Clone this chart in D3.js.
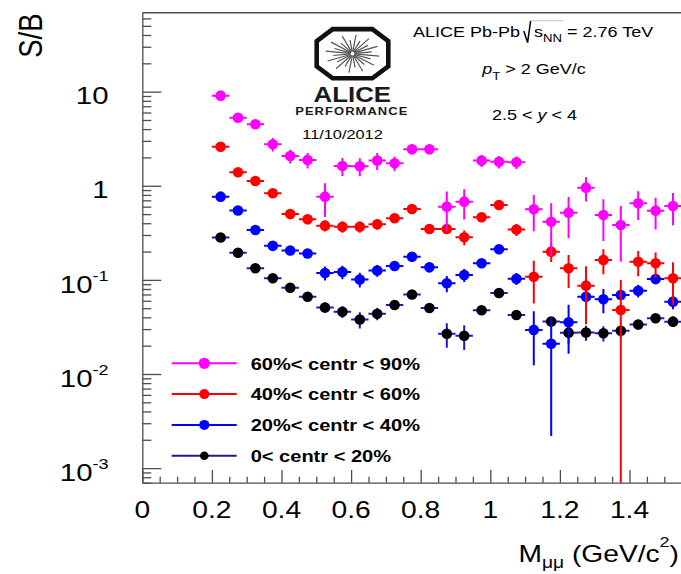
<!DOCTYPE html>
<html>
<head>
<meta charset="utf-8">
<script src="https://cdn.jsdelivr.net/npm/d3@7/dist/d3.min.js"></script>
<style>
  html, body { margin: 0; padding: 0; background: #fff; }
  svg { display: block; font-family: "Liberation Sans", Arial, Helvetica, sans-serif; }
</style>
</head>
<body>
<svg id="chart" width="681" height="574"></svg>
<script>
// Dimuon invariant-mass bin centres (GeV/c^2)
const massBins = [0.225, 0.275, 0.325, 0.375, 0.425, 0.475, 0.525, 0.575, 0.625,
                  0.675, 0.725, 0.775, 0.825, 0.875, 0.925, 0.975, 1.025, 1.075,
                  1.125, 1.175, 1.225, 1.275, 1.325, 1.375, 1.425, 1.475, 1.525];
const halfBin = 0.025;

// Signal over background per centrality class, with statistical errors
const sb60to90 = [9.07, 5.29, 4.50, 2.76, 2.07, 1.88, 0.766, 1.62, 1.61, 1.85, 1.73, 2.44, 2.44,
                  0.60, 0.678, 1.85, 1.80, 1.78, 0.563, 0.415, 0.518, 0.955, 0.489, 0.383, 0.652, 0.544, 0.610];
const err60to90 = [1.0, 0.5, 0.5, 0.45, 0.35, 0.35, 0.3, 0.35, 0.35, 0.38, 0.3, 0.28, 0.28,
                   0.27, 0.24, 0.27, 0.27, 0.27, 0.235, 0.237, 0.24, 0.275, 0.23, 0.227, 0.22, 0.2, 0.23];

const sb40to60 = [2.60, 1.39, 1.125, 0.832, 0.501, 0.441, 0.377, 0.367, 0.367, 0.390, 0.452, 0.567, 0.347,
                  0.347, 0.284, 0.463, 0.625, 0.343, 0.108, 0.1995, 0.133, 0.0868, 0.163, 0.0479, 0.156, 0.150, 0.104];
const err40to60 = [0.2, 0.1, 0.08, 0.07, 0.06, 0.05, 0.05, 0.05, 0.05, 0.05, 0.045, 0.05, 0.035,
                   0.035, 0.05, 0.045, 0.05, 0.05, 0.052, 0.045, 0.051, 0.053, 0.048, 0.052, 0.047, 0.045, 0.05];

const sb20to40 = [0.766, 0.546, 0.339, 0.230, 0.205, 0.191, 0.1184, 0.1213, 0.101, 0.126, 0.1406, 0.1764, 0.136,
                  0.092, 0.1127, 0.150, 0.2114, 0.103, 0.0294, 0.021, 0.0354, 0.0663, 0.0622, 0.0691, 0.0768, 0.102, 0.0587];
const err20to40 = [0.05, 0.04, 0.03, 0.025, 0.022, 0.02, 0.02, 0.02, 0.018, 0.018, 0.016, 0.016, 0.016,
                   0.018, 0.018, 0.016, 0.016, 0.015, 0.017, 0.0188, 0.019, 0.008, 0.018, 0.008, 0.012, 0.01, 0.01];

const sb0to20 = [0.282, 0.1945, 0.133, 0.104, 0.0826, 0.0663, 0.0509, 0.0459, 0.0379, 0.0437, 0.0541, 0.070, 0.0503,
                 0.0268, 0.0255, 0.0475, 0.0726, 0.0424, null, 0.0361, 0.0275, 0.0276, 0.0271, 0.0288, 0.0336, 0.0391, 0.0360];
const err0to20 = [0.02, 0.014, 0.01, 0.008, 0.007, 0.006, 0.0065, 0.0065, 0.0075, 0.0065, 0.005, 0.005, 0.005,
                  0.0078, 0.0075, 0.004, 0.004, 0.004, null, 0.004, 0.0065, 0.005, 0.005, 0.004, 0.004, 0.004, 0.0045];

const legendLabels = ["60%< centr < 90%", "40%< centr < 60%", "20%< centr < 40%", "0< centr < 20%"];

// Axis ticks and labels
const xMajorTicks = [0, 0.2, 0.4, 0.6, 0.8, 1.0, 1.2, 1.4];
const xTickLabels = ["0", "0.2", "0.4", "0.6", "0.8", "1", "1.2", "1.4"];
const yMajorTicks = [10, 1, 0.1, 0.01, 0.001];
const yTickBase = ["10", "1", "10", "10", "10"];
const yTickExp = ["", "", "-1", "-2", "-3"];

// ---------------------------------------------------------------
const svg = d3.select("#chart");
const SX = 1.2;                    // horizontal text stretch of the canvas
const AXIS_COL = "#4d4d4d";

const plotL = 142.3, plotR = 681.7, plotT = 12.7, plotB = 482.7;
const x = d3.scaleLinear().domain([0, 1.55]).range([plotL, plotR]);
const y = d3.scaleLog().domain([7e-4, 69]).range([plotB, plotT]);

svg.append("rect").attr("width", 681).attr("height", 574).attr("fill", "#fff");

// Text placed with a horizontal stretch about its anchor point
function label(parent, px, py, anchor, size, weight) {
  return parent.append("text")
    .attr("transform", `translate(${px},${py}) scale(${SX},1)`)
    .attr("text-anchor", anchor)
    .attr("font-size", size)
    .attr("font-weight", weight || "normal")
    .attr("fill", "#000");
}

// ---------- axes ----------
const axisG = svg.append("g");

const minorY = [];
for (let k = -4; k <= 1; k++) {
  for (let m = 2; m <= 9; m++) {
    const v = m * Math.pow(10, k);
    if (v >= 7e-4 && v <= 69) minorY.push(v);
  }
}
const minorX = d3.range(0, 31).map(i => +(i * 0.05).toFixed(2))
  .filter(v => !xMajorTicks.some(t => Math.abs(t - v) < 1e-6));

const yMajorAxis = d3.axisLeft(y).tickValues(yMajorTicks).tickSizeInner(-19).tickSizeOuter(0).tickFormat("");
const yMinorAxis = d3.axisLeft(y).tickValues(minorY).tickSizeInner(-9).tickSizeOuter(0).tickFormat("");
const xMajorAxis = d3.axisBottom(x).tickValues(xMajorTicks).tickSizeInner(-12.7).tickSizeOuter(0).tickFormat("");
const xMinorAxis = d3.axisBottom(x).tickValues(minorX).tickSizeInner(-6).tickSizeOuter(0).tickFormat("");

axisG.append("g").attr("transform", `translate(${plotL},0)`).call(yMajorAxis);
axisG.append("g").attr("transform", `translate(${plotL},0)`).call(yMinorAxis).select(".domain").remove();
axisG.append("g").attr("transform", `translate(0,${plotB})`).call(xMajorAxis);
axisG.append("g").attr("transform", `translate(0,${plotB})`).call(xMinorAxis).select(".domain").remove();
axisG.selectAll("path, line").attr("stroke", AXIS_COL).attr("stroke-width", 1.3);

// top frame line
axisG.append("line")
  .attr("x1", plotL).attr("x2", 681).attr("y1", plotT).attr("y2", plotT)
  .attr("stroke", AXIS_COL).attr("stroke-width", 1.6);

// tick labels
xMajorTicks.forEach((t, i) => {
  label(svg, x(t), 518.3, "middle", 23.5).text(xTickLabels[i]);
});
yMajorTicks.forEach((t, i) => {
  const txt = label(svg, 108.5, y(t) + 12.7, "end", 24.5);
  txt.append("tspan").text(yTickBase[i]);
  if (yTickExp[i]) {
    txt.append("tspan").attr("font-size", 15).attr("dy", -11.6).text(yTickExp[i]);
  }
});

// axis titles
const xt = label(svg, 679, 561.7, "end", 23.5);
xt.append("tspan").text("M");
xt.append("tspan").attr("font-size", 16).attr("dy", 6).text("\u03bc\u03bc");
xt.append("tspan").attr("dy", -6).text(" (GeV/c");
xt.append("tspan").attr("font-size", 15).attr("dy", -14.4).text("2");
xt.append("tspan").attr("dy", 14.4).text(")");

svg.append("text")
  .attr("transform", `translate(41.7,13.5) scale(${SX},1) rotate(-90)`)
  .attr("text-anchor", "end")
  .attr("font-size", 27.5)
  .text("S/B");

// ---------- data ----------
const clipId = "plotClip";
svg.append("clipPath").attr("id", clipId)
  .append("rect").attr("x", plotL).attr("y", plotT)
  .attr("width", plotR - plotL).attr("height", plotB - plotT);

const series = [
  { vals: sb0to20,  errs: err0to20,  marker: "#000000", bar: "#1a1acc" },
  { vals: sb20to40, errs: err20to40, marker: "#0000ff", bar: "#0000ff" },
  { vals: sb40to60, errs: err40to60, marker: "#ff0000", bar: "#ff0000" },
  { vals: sb60to90, errs: err60to90, marker: "#ff00ff", bar: "#ff00ff" }
];

const dataG = svg.append("g").attr("clip-path", `url(#${clipId})`);
series.forEach(s => {
  const pts = massBins.map((m, i) => ({ m, v: s.vals[i], e: s.errs[i] }))
    .filter(d => d.v != null);
  const g = dataG.append("g");
  // horizontal bars: bin width
  g.selectAll("line.h").data(pts).join("line").attr("class", "h")
    .attr("x1", d => x(d.m - halfBin)).attr("x2", d => x(d.m + halfBin))
    .attr("y1", d => y(d.v)).attr("y2", d => y(d.v))
    .attr("stroke", s.bar).attr("stroke-width", 2);
  // vertical bars: statistical error
  g.selectAll("line.v").data(pts).join("line").attr("class", "v")
    .attr("x1", d => x(d.m)).attr("x2", d => x(d.m))
    .attr("y1", d => y(d.v + d.e))
    .attr("y2", d => (d.v - d.e) > 7e-4 ? y(d.v - d.e) : plotB + 2)
    .attr("stroke", s.bar).attr("stroke-width", 2);
  g.selectAll("circle").data(pts).join("circle")
    .attr("cx", d => x(d.m)).attr("cy", d => y(d.v))
    .attr("r", 5.3).attr("fill", s.marker);
});

// ---------- legend ----------
const legendRows = [
  { line: "#ff00ff", marker: "#ff00ff", r: 5.6 },
  { line: "#ff0000", marker: "#ff0000", r: 5.0 },
  { line: "#0000ff", marker: "#0000ff", r: 5.0 },
  { line: "#1c1c8a", marker: "#000000", r: 4.3 }
];
legendRows.forEach((row, i) => {
  const ly = 363.3 + i * 30.8;
  svg.append("line").attr("x1", 171.7).attr("x2", 236.7).attr("y1", ly).attr("y2", ly)
    .attr("stroke", row.line).attr("stroke-width", 2);
  svg.append("circle").attr("cx", 204.3).attr("cy", ly).attr("r", row.r).attr("fill", row.marker);
  label(svg, 250.7, ly + 6.2, "start", 16.7, "bold").text(legendLabels[i]);
});

// ---------- collaboration logo ----------
const logo = svg.append("g");
const lcx = 352.5, lcy = 53.7;
const bx0 = 316.7, bx1 = 388.3, by0 = 29.1, by1 = 78.3, cutX = 16, cutY = 12;
const octagon = [
  [bx0 + cutX, by0], [bx1 - cutX, by0], [bx1, by0 + cutY], [bx1, by1 - cutY],
  [bx1 - cutX, by1], [bx0 + cutX, by1], [bx0, by1 - cutY], [bx0, by0 + cutY]
];
logo.append("path")
  .attr("d", d3.line()(octagon) + "Z")
  .attr("fill", "#fff").attr("stroke", "#111").attr("stroke-width", 4.6)
  .attr("stroke-linejoin", "miter");
const rays = d3.range(24).map(i => ({
  a: i * Math.PI / 12 + Math.PI / 24,
  len: i % 2 === 0 ? 1 : 0.72
}));
logo.selectAll("line.ray").data(rays).join("line").attr("class", "ray")
  .attr("x1", d => lcx + 2 * Math.cos(d.a)).attr("y1", d => lcy + 2 * Math.sin(d.a))
  .attr("x2", d => lcx + 27 * d.len * Math.cos(d.a))
  .attr("y2", d => lcy + 19 * d.len * Math.sin(d.a))
  .attr("stroke", "#555").attr("stroke-width", 1.2);
label(logo, 352.3, 101.7, "middle", 21.5, "bold").attr("fill", "#1a1a1a").text("ALICE");
label(logo, 351.8, 115, "middle", 10.8, "bold").attr("fill", "#1a1a1a")
  .attr("letter-spacing", 0.9).text("PERFORMANCE");
label(logo, 342.5, 139, "middle", 13.6).text("11/10/2012");

// ---------- run conditions ----------
label(svg, 520, 36.7, "end", 15).text("ALICE Pb-Pb");
svg.append("path")
  .attr("d", "M523.8,31 L527.6,42.6 L530.6,20.8")
  .attr("fill", "none").attr("stroke", "#000").attr("stroke-width", 1.5);
svg.append("line").attr("x1", 530.6).attr("x2", 563.5).attr("y1", 20.8).attr("y2", 20.8)
  .attr("stroke", "#c8c8c8").attr("stroke-width", 1);
const sq = label(svg, 534, 36.7, "start", 15);
sq.append("tspan").text("s");
sq.append("tspan").attr("font-size", 11).attr("dy", 5).text("NN");
sq.append("tspan").attr("dy", -5).text(" = 2.76 TeV");

const pt = label(svg, 534, 74, "middle", 15);
pt.append("tspan").attr("font-style", "italic").text("p");
pt.append("tspan").attr("font-size", 11).attr("dy", 6).text("T");
pt.append("tspan").attr("dy", -6).text(" > 2 GeV/c");

const rap = label(svg, 534.5, 120, "middle", 15);
rap.append("tspan").text("2.5 < ");
rap.append("tspan").attr("font-style", "italic").text("y");
rap.append("tspan").text(" < 4");
</script>
</body>
</html>
